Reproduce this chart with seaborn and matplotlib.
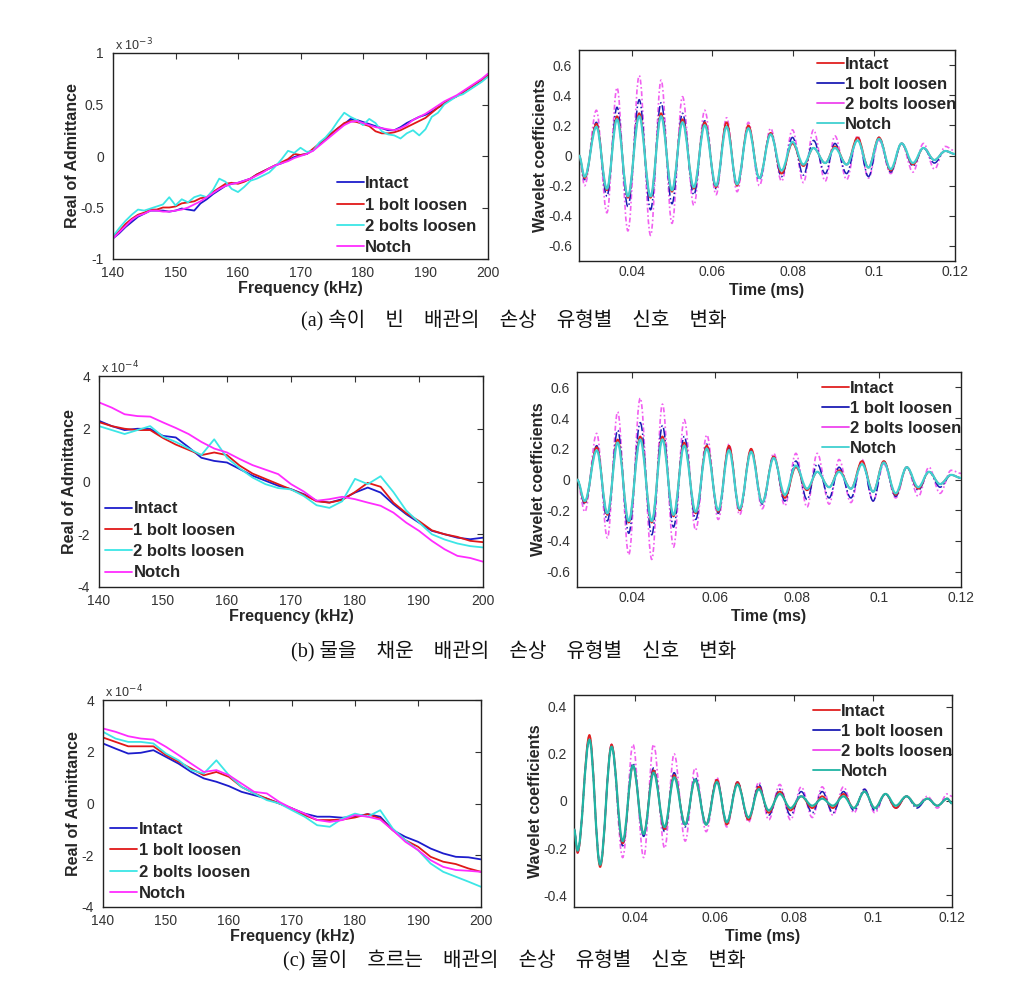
import numpy as np
import pandas as pd
import matplotlib
matplotlib.use('Agg')
import matplotlib.pyplot as plt
import seaborn as sns
from matplotlib.path import Path
from matplotlib.patches import PathPatch
from matplotlib.lines import Line2D
from matplotlib.ticker import FuncFormatter

sns.set_style('white')
plt.rcParams['font.family'] = ['Liberation Sans', 'DejaVu Sans']
plt.rcParams['axes.unicode_minus'] = False

# ---------------- data ----------------
series_labels = ['Intact', '1 bolt loosen', '2 bolts loosen', 'Notch']

# (a) admittance, empty pipe (x 1e-3), 1 kHz grid
freq_a = list(range(140, 201))
adm_a_intact = [-0.80, -0.75, -0.69, -0.64, -0.59, -0.56, -0.53, -0.53, -0.53, -0.54,
                -0.53, -0.51, -0.52, -0.53, -0.46, -0.42, -0.37, -0.33, -0.29, -0.27,
                -0.26, -0.24, -0.22, -0.18, -0.15, -0.12, -0.09, -0.07, -0.04, -0.01,
                0.01, 0.02, 0.06, 0.11, 0.16, 0.22, 0.27, 0.31, 0.36, 0.35,
                0.33, 0.31, 0.29, 0.27, 0.25, 0.25, 0.28, 0.32, 0.35, 0.38,
                0.40, 0.43, 0.47, 0.51, 0.55, 0.58, 0.62, 0.66, 0.70, 0.74, 0.78]
adm_a_1bolt = [-0.79, -0.73, -0.66, -0.61, -0.57, -0.55, -0.52, -0.52, -0.50, -0.50,
               -0.49, -0.46, -0.45, -0.44, -0.41, -0.40, -0.35, -0.31, -0.27, -0.26,
               -0.27, -0.25, -0.22, -0.18, -0.15, -0.12, -0.09, -0.06, -0.03, 0.02,
               0.01, 0.02, 0.07, 0.12, 0.17, 0.22, 0.27, 0.32, 0.34, 0.33,
               0.31, 0.29, 0.24, 0.22, 0.22, 0.23, 0.25, 0.28, 0.31, 0.34,
               0.37, 0.42, 0.47, 0.51, 0.55, 0.58, 0.62, 0.66, 0.70, 0.74, 0.78]
adm_a_2bolts = [-0.78, -0.70, -0.63, -0.57, -0.52, -0.53, -0.51, -0.49, -0.47, -0.40,
                -0.48, -0.42, -0.45, -0.40, -0.38, -0.40, -0.33, -0.22, -0.25, -0.32,
                -0.35, -0.30, -0.24, -0.22, -0.19, -0.16, -0.10, -0.03, 0.05, 0.03,
                0.08, 0.04, 0.05, 0.13, 0.18, 0.25, 0.34, 0.42, 0.38, 0.35,
                0.30, 0.36, 0.32, 0.24, 0.21, 0.20, 0.17, 0.22, 0.25, 0.20,
                0.26, 0.38, 0.42, 0.50, 0.54, 0.58, 0.60, 0.64, 0.68, 0.72, 0.77]
adm_a_notch = [-0.80, -0.74, -0.68, -0.62, -0.58, -0.56, -0.53, -0.53, -0.54, -0.54,
               -0.53, -0.52, -0.50, -0.47, -0.44, -0.40, -0.36, -0.32, -0.29, -0.27,
               -0.26, -0.24, -0.22, -0.19, -0.16, -0.12, -0.09, -0.07, -0.05, -0.02,
               0.00, 0.02, 0.05, 0.10, 0.15, 0.20, 0.25, 0.30, 0.33, 0.34,
               0.32, 0.30, 0.28, 0.27, 0.26, 0.25, 0.27, 0.30, 0.35, 0.38,
               0.41, 0.45, 0.49, 0.53, 0.56, 0.59, 0.63, 0.67, 0.71, 0.75, 0.80]

# (b) admittance, water-filled pipe (x 1e-4), 2 kHz grid
freq_b = list(range(140, 201, 2))
adm_b_intact = [2.30, 2.10, 1.95, 2.00, 1.99, 1.73, 1.67, 1.30, 0.90, 0.78,
                0.72, 0.47, 0.22, 0.03, -0.16, -0.29, -0.48, -0.73, -0.80, -0.67,
                -0.42, -0.23, -0.42, -0.86, -1.24, -1.56, -1.87, -2.00, -2.13, -2.19, -2.13]
adm_b_1bolt = [2.25, 2.10, 2.00, 1.95, 1.95, 1.65, 1.40, 1.20, 1.00, 1.10,
               1.00, 0.60, 0.30, 0.10, -0.10, -0.30, -0.50, -0.75, -0.80, -0.70,
               -0.40, -0.05, -0.20, -0.80, -1.20, -1.50, -1.85, -2.00, -2.10, -2.25, -2.30]
adm_b_2bolts = [2.10, 1.95, 1.80, 1.95, 2.10, 1.70, 1.50, 1.25, 1.00, 1.60,
                0.90, 0.50, 0.15, -0.10, -0.25, -0.30, -0.55, -0.90, -1.00, -0.75,
                0.10, -0.10, 0.20, -0.40, -1.10, -1.55, -2.00, -2.20, -2.35, -2.45, -2.50]
adm_b_notch = [3.00, 2.80, 2.55, 2.48, 2.46, 2.24, 2.03, 1.80, 1.50, 1.25,
               1.10, 0.85, 0.62, 0.45, 0.28, -0.10, -0.38, -0.73, -0.67, -0.58,
               -0.67, -0.80, -0.92, -1.18, -1.56, -1.87, -2.25, -2.57, -2.82, -2.90, -3.04]

# (c) admittance, flowing water (x 1e-4), 2 kHz grid
freq_c = list(range(140, 201, 2))
adm_c_intact = [2.32, 2.12, 1.93, 1.96, 2.06, 1.80, 1.54, 1.22, 0.97, 0.84,
                0.67, 0.45, 0.32, 0.19, 0.00, -0.19, -0.39, -0.51, -0.51, -0.55,
                -0.51, -0.41, -0.51, -1.03, -1.29, -1.48, -1.74, -1.93, -2.06, -2.08, -2.16]
adm_c_1bolt = [2.55, 2.38, 2.21, 2.21, 2.21, 1.87, 1.61, 1.35, 1.09, 1.22,
               1.03, 0.64, 0.39, 0.19, 0.00, -0.19, -0.45, -0.64, -0.64, -0.62,
               -0.54, -0.41, -0.58, -1.03, -1.42, -1.67, -2.06, -2.25, -2.34, -2.51, -2.64]
adm_c_2bolts = [2.77, 2.51, 2.38, 2.38, 2.32, 1.93, 1.67, 1.29, 1.16, 1.67,
                1.09, 0.64, 0.39, 0.13, 0.00, -0.26, -0.51, -0.84, -0.90, -0.58,
                -0.39, -0.51, -0.26, -0.97, -1.42, -1.80, -2.32, -2.64, -2.83, -3.02, -3.22]
adm_c_notch = [2.90, 2.77, 2.60, 2.51, 2.47, 2.19, 1.87, 1.54, 1.22, 1.29,
               1.09, 0.77, 0.45, 0.39, 0.06, -0.19, -0.39, -0.64, -0.71, -0.64,
               -0.45, -0.51, -0.62, -1.03, -1.48, -1.80, -2.19, -2.45, -2.57, -2.60, -2.64]

# Wavelet coefficients: times of extrema (ms) and values at those extrema
time_a = [0.0270, 0.0284, 0.0313, 0.0339, 0.0364, 0.0391, 0.0419, 0.0447, 0.0473, 0.0500,
          0.0526, 0.0554, 0.0581, 0.0609, 0.0635, 0.0661, 0.0689, 0.0716, 0.0744, 0.0771,
          0.0798, 0.0825, 0.0850, 0.0879, 0.0903, 0.0932, 0.0959, 0.0986, 0.1012, 0.1041,
          0.1068, 0.1096, 0.1122, 0.1149, 0.1176, 0.1200]
wav_a_intact = [0.00, -0.15, 0.21, -0.23, 0.26, -0.28, 0.28, -0.28, 0.28, -0.24,
                0.24, -0.22, 0.22, -0.21, 0.22, -0.20, 0.20, -0.15, 0.15, -0.12,
                0.08, -0.07, 0.05, -0.05, 0.06, -0.06, 0.12, -0.08, 0.12, -0.10,
                0.08, -0.06, 0.05, -0.03, 0.03, 0.01]
wav_a_1bolt = [0.00, -0.16, 0.22, -0.27, 0.32, -0.34, 0.37, -0.36, 0.35, -0.32,
               0.28, -0.26, 0.23, -0.22, 0.21, -0.20, 0.19, -0.16, 0.15, -0.14,
               0.12, -0.13, 0.10, -0.12, 0.08, -0.12, 0.12, -0.14, 0.12, -0.11,
               0.08, -0.07, 0.05, -0.05, 0.03, 0.01]
wav_a_2bolts = [0.00, -0.20, 0.30, -0.38, 0.45, -0.50, 0.53, -0.53, 0.50, -0.45,
                0.39, -0.33, 0.30, -0.26, 0.25, -0.24, 0.22, -0.20, 0.18, -0.17,
                0.17, -0.18, 0.17, -0.17, 0.13, -0.16, 0.13, -0.15, 0.10, -0.12,
                0.08, -0.11, 0.08, -0.09, 0.06, 0.03]
wav_a_notch = [0.00, -0.14, 0.19, -0.22, 0.24, -0.27, 0.26, -0.27, 0.26, -0.23,
               0.22, -0.21, 0.20, -0.20, 0.19, -0.19, 0.18, -0.15, 0.14, -0.10,
               0.09, -0.06, 0.05, -0.05, 0.05, -0.06, 0.10, -0.08, 0.11, -0.09,
               0.08, -0.05, 0.05, -0.03, 0.03, 0.01]

time_b = [0.0265, 0.0284, 0.0313, 0.0339, 0.0364, 0.0391, 0.0419, 0.0447, 0.0473, 0.0500,
          0.0526, 0.0554, 0.0581, 0.0609, 0.0635, 0.0661, 0.0689, 0.0716, 0.0744, 0.0771,
          0.0798, 0.0825, 0.0850, 0.0879, 0.0903, 0.0932, 0.0959, 0.0986, 0.1012, 0.1041,
          0.1068, 0.1096, 0.1122, 0.1149, 0.1176, 0.1200]
wav_b_intact = [0.00, -0.15, 0.21, -0.23, 0.26, -0.28, 0.28, -0.28, 0.28, -0.24,
                0.24, -0.22, 0.22, -0.21, 0.22, -0.20, 0.20, -0.15, 0.15, -0.12,
                0.08, -0.07, 0.05, -0.05, 0.06, -0.06, 0.12, -0.08, 0.12, -0.10,
                0.08, -0.06, 0.05, -0.03, 0.03, 0.01]
wav_b_1bolt = [0.00, -0.16, 0.22, -0.27, 0.32, -0.35, 0.37, -0.36, 0.35, -0.31,
               0.28, -0.26, 0.23, -0.22, 0.21, -0.20, 0.19, -0.16, 0.15, -0.14,
               0.12, -0.13, 0.10, -0.12, 0.08, -0.12, 0.12, -0.14, 0.12, -0.11,
               0.08, -0.07, 0.05, -0.05, 0.03, 0.01]
wav_b_2bolts = [0.00, -0.21, 0.30, -0.38, 0.44, -0.49, 0.53, -0.52, 0.49, -0.44,
                0.39, -0.33, 0.29, -0.26, 0.23, -0.23, 0.20, -0.19, 0.17, -0.17,
                0.17, -0.18, 0.17, -0.16, 0.13, -0.15, 0.13, -0.14, 0.10, -0.12,
                0.08, -0.11, 0.08, -0.09, 0.06, 0.04]
wav_b_notch = [0.00, -0.14, 0.19, -0.22, 0.24, -0.27, 0.26, -0.27, 0.26, -0.23,
               0.22, -0.21, 0.20, -0.20, 0.19, -0.19, 0.18, -0.15, 0.14, -0.10,
               0.09, -0.06, 0.05, -0.05, 0.05, -0.06, 0.10, -0.08, 0.11, -0.09,
               0.08, -0.05, 0.05, -0.03, 0.03, 0.01]

time_c = [0.0245, 0.0254, 0.0284, 0.0311, 0.0340, 0.0368, 0.0394, 0.0421, 0.0446, 0.0474,
          0.0498, 0.0526, 0.0551, 0.0579, 0.0606, 0.0631, 0.0658, 0.0686, 0.0712, 0.0737,
          0.0765, 0.0792, 0.0819, 0.0847, 0.0872, 0.0899, 0.0926, 0.0952, 0.0979, 0.1005,
          0.1032, 0.1058, 0.1085, 0.1111, 0.1138, 0.1163, 0.1188, 0.1200]
wav_c_intact = [-0.12, -0.22, 0.28, -0.28, 0.24, -0.18, 0.15, -0.14, 0.13, -0.12,
                0.11, -0.10, 0.09, -0.10, 0.09, -0.10, 0.08, -0.08, 0.06, -0.05,
                0.04, -0.04, 0.02, -0.03, 0.02, -0.03, 0.03, -0.03, 0.04, -0.03,
                0.03, -0.03, 0.02, -0.02, 0.01, -0.02, 0.01, -0.01]
wav_c_1bolt = [-0.12, -0.21, 0.26, -0.27, 0.23, -0.19, 0.16, -0.15, 0.14, -0.13,
               0.12, -0.11, 0.10, -0.10, 0.09, -0.09, 0.08, -0.08, 0.07, -0.06,
               0.05, -0.06, 0.04, -0.05, 0.04, -0.05, 0.04, -0.04, 0.05, -0.04,
               0.03, -0.03, 0.02, -0.03, 0.01, -0.02, 0.01, -0.01]
wav_c_2bolts = [-0.12, -0.22, 0.27, -0.27, 0.24, -0.24, 0.24, -0.24, 0.24, -0.20,
                0.20, -0.17, 0.14, -0.13, 0.10, -0.11, 0.08, -0.09, 0.08, -0.08,
                0.07, -0.08, 0.06, -0.07, 0.06, -0.06, 0.06, -0.05, 0.05, -0.05,
                0.03, -0.03, 0.02, -0.02, 0.02, -0.03, 0.03, 0.02]
wav_c_notch = [-0.12, -0.21, 0.26, -0.27, 0.23, -0.17, 0.15, -0.14, 0.12, -0.11,
               0.10, -0.10, 0.09, -0.10, 0.08, -0.09, 0.07, -0.07, 0.05, -0.04,
               0.03, -0.03, 0.02, -0.02, 0.01, -0.02, 0.02, -0.03, 0.04, -0.03,
               0.03, -0.02, 0.02, -0.02, 0.01, -0.02, 0.01, -0.01]

GAP = '\u3000'
captions = ['(a) ' + GAP.join(['속이', '빈', '배관의', '손상', '유형별', '신호', '변화']),
            '(b) ' + GAP.join(['물을', '채운', '배관의', '손상', '유형별', '신호', '변화']),
            '(c) ' + GAP.join(['물이', '흐르는', '배관의', '손상', '유형별', '신호', '변화'])]

# ---------------- styling ----------------
adm_colors = ['#1c1ccc', '#e01818', '#3ce6e6', '#ff2cff']
wav_colors = ['#e02020', '#1c1cb4', '#ee44ee', '#40d0d0']
wav_colors_c = ['#e02020', '#1c1cb4', '#ee44ee', '#20b4a4']
LBL = dict(fontsize=11.5, fontweight='bold')
LEG = dict(size=12, weight='bold')


def style_axes(ax, ypad=5, xpad=3):
    ax.tick_params(direction='in', top=True, right=True, length=4, width=0.8,
                   labelsize=10, colors='#333333')
    ax.tick_params(axis='y', pad=ypad)
    ax.tick_params(axis='x', pad=xpad)
    for s in ax.spines.values():
        s.set_color('#222222')
        s.set_linewidth(1.0)


def adm_panel(ax, freq, ys, lim, ticks, exp_txt, leg_anchor):
    for y, c, lab in zip(ys, adm_colors, series_labels):
        df = pd.DataFrame({'f': freq, 'v': y})
        sns.lineplot(data=df, x='f', y='v', ax=ax, color=c, lw=1.3, label=lab)
    ax.set_xlim(140, 200)
    ax.set_ylim(*lim)
    ax.set_xticks(range(140, 201, 10))
    ax.set_yticks(ticks)
    ax.yaxis.set_major_formatter(FuncFormatter(lambda v, p: f'{v:g}'))
    ax.set_xlabel('Frequency (kHz)', labelpad=1, **LBL)
    ax.set_ylabel('Real of Admittance', labelpad=0, **LBL)
    ax.text(0.005, 1.0, exp_txt, transform=ax.transAxes, ha='left', va='bottom',
            fontsize=9, color='#333333')
    ax.legend(loc='upper left', bbox_to_anchor=leg_anchor, frameon=False,
              borderpad=0, borderaxespad=0, handlelength=1.6, handletextpad=0.1,
              labelspacing=0.38, prop=LEG)
    style_axes(ax, ypad=6.5, xpad=5)


def smooth_curve(ax, t, v, color, ls, lw, z, alpha):
    df = pd.DataFrame({'t': t, 'v': v})
    sns.lineplot(data=df, x='t', y='v', ax=ax, color=color, lw=lw)
    line = ax.lines[-1]
    xy = line.get_xydata()
    line.remove()
    verts = [tuple(xy[0])]
    codes = [Path.MOVETO]
    for (x0, y0), (x1, y1) in zip(xy[:-1], xy[1:]):
        d = (x1 - x0) * 0.364
        verts += [(x0 + d, y0), (x1 - d, y1), (x1, y1)]
        codes += [Path.CURVE4] * 3
    ax.add_patch(PathPatch(Path(verts, codes), fill=False, edgecolor=color,
                           lw=lw, linestyle=ls, zorder=z, alpha=alpha))


def wav_panel(ax, t, ys, colors, lim, ticks, leg_anchor):
    styles = [('-', 1.3, 3, 1.0), ('-.', 1.1, 2, 1.0), ((0, (3, 1.5, 1, 1.5)), 1.2, 1, 0.85),
              ('-', 1.6, 4, 1.0)]
    for idx in [2, 1, 0, 3]:
        ls, lw, z, al = styles[idx]
        smooth_curve(ax, t, ys[idx], colors[idx], ls, lw, z, al)
    ax.set_xlim(t[0], 0.12)
    ax.set_ylim(*lim)
    ax.set_xticks([0.04, 0.06, 0.08, 0.1, 0.12])
    ax.set_yticks(ticks)
    ax.xaxis.set_major_formatter(FuncFormatter(lambda v, p: f'{v:g}'))
    ax.yaxis.set_major_formatter(FuncFormatter(lambda v, p: f'{round(v, 2):g}'))
    ax.set_xlabel('Time (ms)', labelpad=3, **LBL)
    ax.set_ylabel('Wavelet coefficients', labelpad=0, **LBL)
    handles = [Line2D([], [], color=c, lw=1.3) for c in colors]
    ax.legend(handles, series_labels, loc='upper left', bbox_to_anchor=leg_anchor,
              frameon=False, borderpad=0, borderaxespad=0, handlelength=1.6,
              handletextpad=0.1, labelspacing=0.3, prop=LEG)
    style_axes(ax)


W, H = 1022, 991
fig = plt.figure(figsize=(W / 100, H / 100), dpi=100)


def add_ax(left, top, right, bottom):
    return fig.add_axes([left / W, 1 - bottom / H, (right - left) / W, (bottom - top) / H])


ax_aL = add_ax(113, 53, 488, 259)
ax_aR = add_ax(579, 50, 955, 261)
ax_bL = add_ax(99, 376, 483, 587)
ax_bR = add_ax(577, 372, 961, 587)
ax_cL = add_ax(103, 700, 481, 907)
ax_cR = add_ax(574, 695, 952, 907)

adm_panel(ax_aL, freq_a, [adm_a_intact, adm_a_1bolt, adm_a_2bolts, adm_a_notch],
          (-1, 1), [-1, -0.5, 0, 0.5, 1], r'x 10$^{-3}$', (0.597, 0.402))
adm_panel(ax_bL, freq_b, [adm_b_intact, adm_b_1bolt, adm_b_2bolts, adm_b_notch],
          (-4, 4), [-4, -2, 0, 2, 4], r'x 10$^{-4}$', (0.016, 0.406))
adm_panel(ax_cL, freq_c, [adm_c_intact, adm_c_1bolt, adm_c_2bolts, adm_c_notch],
          (-4, 4), [-4, -2, 0, 2, 4], r'x 10$^{-4}$', (0.019, 0.411))

wav_panel(ax_aR, time_a, [wav_a_intact, wav_a_1bolt, wav_a_2bolts, wav_a_notch],
          wav_colors, (-0.7, 0.7), [-0.6, -0.4, -0.2, 0, 0.2, 0.4, 0.6], (0.633, 0.966))
wav_panel(ax_bR, time_b, [wav_b_intact, wav_b_1bolt, wav_b_2bolts, wav_b_notch],
          wav_colors, (-0.7, 0.7), [-0.6, -0.4, -0.2, 0, 0.2, 0.4, 0.6], (0.638, 0.957))
wav_panel(ax_cR, time_c, [wav_c_intact, wav_c_1bolt, wav_c_2bolts, wav_c_notch],
          wav_colors_c, (-0.45, 0.45), [-0.4, -0.2, 0, 0.2, 0.4], (0.632, 0.956))

for cap, yc in zip(captions, [321, 652, 961]):
    fig.text(514 / W, 1 - yc / H, cap, ha='center', va='center', fontsize=14.5,
             family=['Liberation Serif', 'Noto Sans CJK KR'], color='#111111')

fig.savefig('out.png', dpi=100)
